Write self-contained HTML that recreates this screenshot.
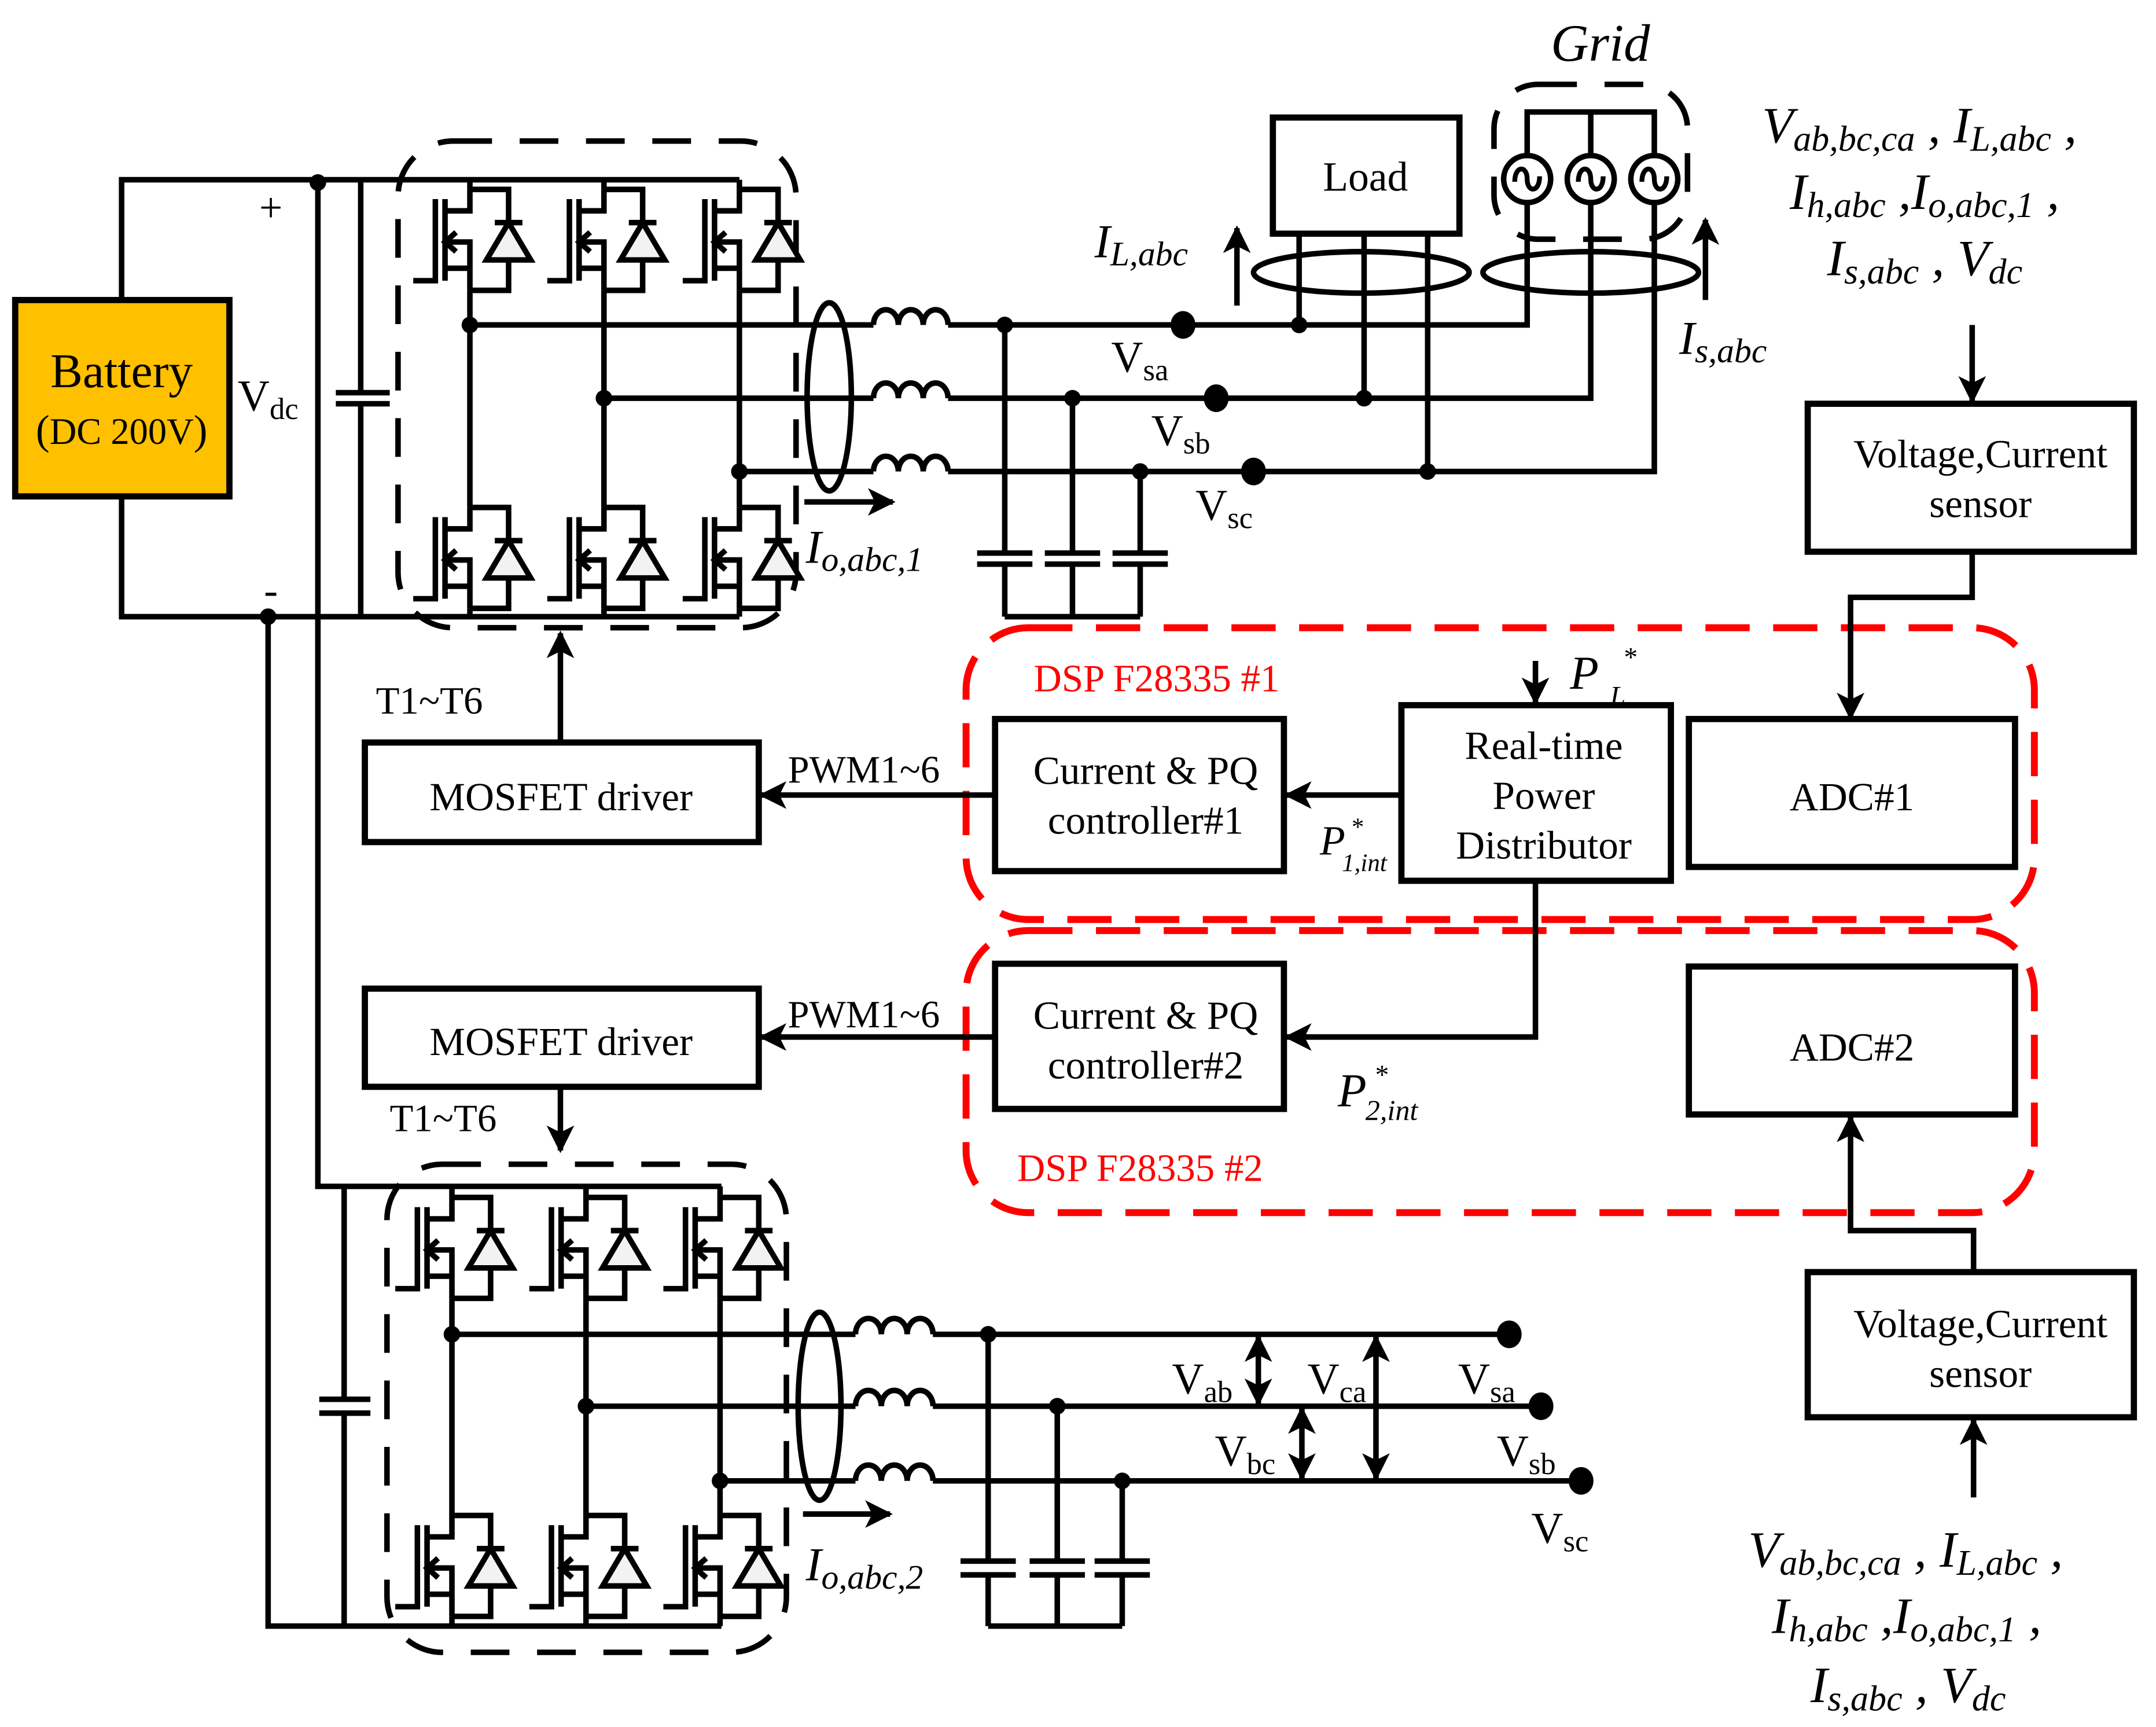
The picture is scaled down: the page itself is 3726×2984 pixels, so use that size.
<!DOCTYPE html>
<html><head><meta charset="utf-8"><style>
html,body{margin:0;padding:0;background:#fff}
svg{display:block}
text{font-family:"Liberation Serif",serif;fill:#000}
</style></head><body>
<svg width="3726" height="2984" viewBox="0 0 1560 1249" preserveAspectRatio="none" xmlns="http://www.w3.org/2000/svg" font-family="Liberation Serif, serif">
<defs>
<marker id="ar" viewBox="0 0 20 20" refX="18" refY="10" markerWidth="20" markerHeight="20" markerUnits="userSpaceOnUse" orient="auto-start-reverse">
<path d="M0,0 L20,10 L0,20 L5,10 z" fill="#000"/></marker>
<g id="cell" fill="none" stroke="#000" stroke-width="4" stroke-linejoin="miter">
<path d="M0,0 V15.5 H-18"/>
<path d="M-18,7 V66"/>
<path d="M-25,7 V66 H-41"/>
<path d="M-18,38 H0 V73"/>
<path d="M-18,57 H0"/>
<path d="M0,0 H28 V24"/>
<path d="M28,51 V73 H0"/>
<path d="M18,24 H38"/>
<path d="M28,24 L12,51 H44 Z" fill="#f2f2f2"/>
<path d="M-10,31 L-18,38 L-10,45"/>
</g>
<g id="src" fill="none" stroke="#000" stroke-width="4">
<circle cx="0" cy="0" r="17" fill="#fff"/>
<path d="M-9,2 C-9,-10 0,-10 0,0 C0,10 9,10 9,-2" stroke-width="3.5"/>
</g>
</defs>

<g fill="none" stroke="#000" stroke-width="4">
<path d="M88,217 V130 H535"/>
<path d="M88,359 V446 H535"/>
<path d="M230,130 V858 H522"/>
<path d="M194,446 V1176 H522"/>
<path d="M261,130 V284 M261,292 V446 M243,284 H282 M243,292 H282"/>
<path d="M249,858 V1012 M249,1022 V1176 M231,1012 H268 M231,1022 H268"/>
<path d="M340,130 V137 M340,210 V367 M340,440 V446"/>
<path d="M437,130 V137 M437,210 V367 M437,440 V446"/>
<path d="M535,130 V137 M535,210 V367 M535,440 V446"/>
<path d="M327,858 V866 M327,939 V1096 M327,1169 V1176"/>
<path d="M424,858 V866 M424,939 V1096 M424,1169 V1176"/>
<path d="M521,858 V866 M521,939 V1096 M521,1169 V1176"/>
<path d="M340,235 H632 M686,235 H1105 V146"/>
<path d="M437,288 H632 M686,288 H1151 V146"/>
<path d="M535,341 H632 M686,341 H1197 V146"/>
<path d="M632,235 a9,11 0 0 1 18,0 a9,11 0 0 1 18,0 a9,11 0 0 1 18,0"/>
<path d="M632,288 a9,11 0 0 1 18,0 a9,11 0 0 1 18,0 a9,11 0 0 1 18,0"/>
<path d="M632,341 a9,11 0 0 1 18,0 a9,11 0 0 1 18,0 a9,11 0 0 1 18,0"/>
<path d="M1105,112 V81 H1197 V112 M1151,81 V112"/>
<path d="M940,169 V235 M987,169 V288 M1033,169 V341"/>
<path d="M727,235 V400 M727,408 V446 M707,400 H747 M707,408 H747"/>
<path d="M776,288 V400 M776,408 V446 M756,400 H796 M756,408 H796"/>
<path d="M825,341 V400 M825,408 V446 M805,400 H845 M805,408 H845"/>
<path d="M727,446 H825"/>
<path d="M327,965 H619 M675,965 H1088"/>
<path d="M424,1017 H619 M675,1017 H1110"/>
<path d="M521,1071 H619 M675,1071 H1139"/>
<path d="M619,965 a9,11 0 0 1 18.7,0 a9,11 0 0 1 18.7,0 a9,11 0 0 1 18.7,0"/>
<path d="M619,1017 a9,11 0 0 1 18.7,0 a9,11 0 0 1 18.7,0 a9,11 0 0 1 18.7,0"/>
<path d="M619,1071 a9,11 0 0 1 18.7,0 a9,11 0 0 1 18.7,0 a9,11 0 0 1 18.7,0"/>
<path d="M715,965 V1129 M715,1139 V1176 M695,1129 H735 M695,1139 H735"/>
<path d="M765,1017 V1129 M765,1139 V1176 M745,1129 H785 M745,1139 H785"/>
<path d="M812,1071 V1129 M812,1139 V1176 M792,1129 H832 M792,1139 H832"/>
<path d="M715,1176 H812"/>
<ellipse cx="600" cy="287" rx="16" ry="68"/>
<ellipse cx="593" cy="1017" rx="15.5" ry="68"/>
<ellipse cx="985" cy="197" rx="78" ry="15"/>
<ellipse cx="1151" cy="197" rx="78" ry="15"/>
<rect x="11" y="217" width="155" height="142" fill="#FFC000" stroke-width="4.5"/>
<rect x="921" y="85" width="135" height="84" stroke-width="4.5"/>
<rect x="1308" y="292" width="236" height="107" stroke-width="4.5"/>
<rect x="1308" y="920" width="236" height="105" stroke-width="4.5"/>
<rect x="1014" y="510" width="195" height="127" stroke-width="4.5"/>
<rect x="1222" y="520" width="236" height="107" stroke-width="4.5"/>
<rect x="1222" y="699" width="236" height="107" stroke-width="4.5"/>
<rect x="720" y="520" width="209" height="110" stroke-width="4.5"/>
<rect x="720" y="697" width="209" height="105" stroke-width="4.5"/>
<rect x="264" y="537" width="285" height="72" stroke-width="4.5"/>
<rect x="264" y="715" width="285" height="71" stroke-width="4.5"/>
<rect x="288" y="102" width="288" height="352" rx="40" stroke-dasharray="28 20"/>
<rect x="280" y="842" width="289" height="353" rx="40" stroke-dasharray="28 20"/>
<rect x="1081" y="61" width="140" height="112" rx="32" stroke-dasharray="28 20"/>
<rect x="699" y="454" width="773" height="211" rx="45" stroke="#ff0000" stroke-width="5" stroke-dasharray="32 17"/>
<rect x="699" y="673" width="773" height="204" rx="45" stroke="#ff0000" stroke-width="5" stroke-dasharray="32 17"/>
<g marker-end="url(#ar)">
<path d="M895,221 V165"/>
<path d="M1234,217 V159"/>
<path d="M1427,235 V290"/>
<path d="M1427,399 V432 H1339 V519"/>
<path d="M1111,478 V508"/>
<path d="M1014,575 H931"/>
<path d="M720,575 H551"/>
<path d="M405.5,537 V458"/>
<path d="M582,363 H646"/>
<path d="M1111,637 V750 H931"/>
<path d="M720,750 H551"/>
<path d="M405.5,786 V832"/>
<path d="M1428,919 V890 H1339 V808"/>
<path d="M1428,1083 V1027"/>
<path d="M581,1095 H644"/>
</g>
<g marker-start="url(#ar)" marker-end="url(#ar)">
<path d="M910.5,967 V1015"/>
<path d="M995.6,967 V1069"/>
<path d="M942,1019 V1069"/>
</g>
</g>

<use href="#cell" x="340" y="137"/><use href="#cell" x="437" y="137"/><use href="#cell" x="535" y="137"/>
<use href="#cell" x="340" y="367"/><use href="#cell" x="437" y="367"/><use href="#cell" x="535" y="367"/>
<use href="#cell" x="327" y="866"/><use href="#cell" x="424" y="866"/><use href="#cell" x="521" y="866"/>
<use href="#cell" x="327" y="1096"/><use href="#cell" x="424" y="1096"/><use href="#cell" x="521" y="1096"/>
<use href="#src" x="1105" y="129.5"/><use href="#src" x="1151" y="129.5"/><use href="#src" x="1197" y="129.5"/>

<g fill="#000">
<circle cx="340" cy="235" r="6"/><circle cx="437" cy="288" r="6"/><circle cx="535" cy="341" r="6"/>
<circle cx="727" cy="235" r="6"/><circle cx="776" cy="288" r="6"/><circle cx="825" cy="341" r="6"/>
<circle cx="940" cy="235" r="6"/><circle cx="987" cy="288" r="6"/><circle cx="1033" cy="341" r="6"/>
<circle cx="230" cy="132" r="6"/><circle cx="194" cy="446" r="6"/>
<circle cx="327" cy="965" r="6"/><circle cx="424" cy="1017" r="6"/><circle cx="521" cy="1071" r="6"/>
<circle cx="715" cy="965" r="6"/><circle cx="765" cy="1017" r="6"/><circle cx="812" cy="1071" r="6"/>
<ellipse cx="856" cy="235" rx="9" ry="10"/><ellipse cx="880" cy="288" rx="9" ry="10"/><ellipse cx="907" cy="341" rx="9" ry="10"/>
<ellipse cx="1092" cy="965" rx="9" ry="10"/><ellipse cx="1115" cy="1017" rx="9" ry="10"/><ellipse cx="1144" cy="1071" rx="9" ry="10"/>
</g>

<text x="88" y="280" font-size="35" text-anchor="middle">Battery</text>
<text x="88" y="321" font-size="27" text-anchor="middle"><tspan font-size="30">(</tspan>DC 200V<tspan font-size="30">)</tspan></text>
<text x="196" y="160" font-size="30" text-anchor="middle">+</text>
<text x="196" y="437" font-size="30" text-anchor="middle">-</text>
<text x="172" y="297" font-size="32">V<tspan dy="6" font-size="22">dc</tspan></text>
<text x="988" y="138" font-size="30" text-anchor="middle">Load</text>
<text x="1158" y="44" font-size="38" font-style="italic" text-anchor="middle">Grid</text>
<text x="792" y="186" font-size="34" font-style="italic">I<tspan dy="6" font-size="25">L,abc</tspan></text>
<text x="1215" y="256" font-size="34" font-style="italic">I<tspan dy="6" font-size="25">s,abc</tspan></text>
<text x="583" y="407" font-size="34" font-style="italic">I<tspan dy="6" font-size="25">o,abc,1</tspan></text>
<text x="583" y="1143" font-size="34" font-style="italic">I<tspan dy="6" font-size="25">o,abc,2</tspan></text>
<text x="804" y="269" font-size="32">V<tspan dy="6" font-size="22">sa</tspan></text>
<text x="833" y="322" font-size="32">V<tspan dy="6" font-size="22">sb</tspan></text>
<text x="865" y="376" font-size="32">V<tspan dy="6" font-size="22">sc</tspan></text>
<text x="848" y="1008" font-size="32">V<tspan dy="6" font-size="22">ab</tspan></text>
<text x="946" y="1008" font-size="32">V<tspan dy="6" font-size="22">ca</tspan></text>
<text x="1055" y="1008" font-size="32">V<tspan dy="6" font-size="22">sa</tspan></text>
<text x="879" y="1060" font-size="32">V<tspan dy="6" font-size="22">bc</tspan></text>
<text x="1083" y="1060" font-size="32">V<tspan dy="6" font-size="22">sb</tspan></text>
<text x="1108" y="1116" font-size="32">V<tspan dy="6" font-size="22">sc</tspan></text>

<text x="1275" y="103" font-size="37" font-style="italic">V<tspan dy="6" font-size="26">ab,bc,ca</tspan><tspan dy="-6"> , I</tspan><tspan dy="6" font-size="26">L,abc</tspan><tspan dy="-6"> ,</tspan></text>
<text x="1295" y="151" font-size="37" font-style="italic">I<tspan dy="6" font-size="26">h,abc</tspan><tspan dy="-6"> ,I</tspan><tspan dy="6" font-size="26">o,abc,1</tspan><tspan dy="-6"> ,</tspan></text>
<text x="1322" y="199" font-size="37" font-style="italic">I<tspan dy="6" font-size="26">s,abc</tspan><tspan dy="-6"> ,  V</tspan><tspan dy="6" font-size="26">dc</tspan></text>
<text x="1265" y="1133" font-size="37" font-style="italic">V<tspan dy="6" font-size="26">ab,bc,ca</tspan><tspan dy="-6"> , I</tspan><tspan dy="6" font-size="26">L,abc</tspan><tspan dy="-6"> ,</tspan></text>
<text x="1282" y="1181" font-size="37" font-style="italic">I<tspan dy="6" font-size="26">h,abc</tspan><tspan dy="-6"> ,I</tspan><tspan dy="6" font-size="26">o,abc,1</tspan><tspan dy="-6"> ,</tspan></text>
<text x="1310" y="1231" font-size="37" font-style="italic">I<tspan dy="6" font-size="26">s,abc</tspan><tspan dy="-6"> ,  V</tspan><tspan dy="6" font-size="26">dc</tspan></text>

<text x="1433" y="338" font-size="29" text-anchor="middle">Voltage,Current</text>
<text x="1433" y="374" font-size="29" text-anchor="middle">sensor</text>
<text x="1433" y="967" font-size="29" text-anchor="middle">Voltage,Current</text>
<text x="1433" y="1003" font-size="29" text-anchor="middle">sensor</text>
<text x="1117" y="549" font-size="29" text-anchor="middle">Real-time</text>
<text x="1117" y="585" font-size="29" text-anchor="middle">Power</text>
<text x="1117" y="621" font-size="29" text-anchor="middle">Distributor</text>
<text x="1340" y="586" font-size="29" text-anchor="middle">ADC#1</text>
<text x="1340" y="767" font-size="29" text-anchor="middle">ADC#2</text>
<text x="829" y="567" font-size="29" text-anchor="middle">Current &amp; PQ</text>
<text x="829" y="603" font-size="29" text-anchor="middle">controller#1</text>
<text x="829" y="744" font-size="29" text-anchor="middle">Current &amp; PQ</text>
<text x="829" y="780" font-size="29" text-anchor="middle">controller#2</text>
<text x="406" y="586" font-size="29" text-anchor="middle">MOSFET driver</text>
<text x="406" y="763" font-size="29" text-anchor="middle">MOSFET driver</text>
<text x="570" y="566" font-size="28">PWM1~6</text>
<text x="570" y="743" font-size="28">PWM1~6</text>
<text x="272" y="516" font-size="28">T1~T6</text>
<text x="282" y="818" font-size="28">T1~T6</text>
<text x="748" y="500" font-size="28" style="fill:#ff0000">DSP F28335 #1</text>
<text x="736" y="854" font-size="28" style="fill:#ff0000">DSP F28335 #2</text>
<text x="1136" y="498" font-size="34" font-style="italic">P</text>
<text x="1175" y="482" font-size="20">*</text>
<text x="1165" y="510" font-size="20" font-style="italic">L</text>
<text x="955" y="618" font-size="30" font-style="italic">P</text>
<text x="978" y="604" font-size="18">*</text>
<text x="971" y="630" font-size="18" font-style="italic">1,int</text>
<text x="968" y="800" font-size="34" font-style="italic">P</text>
<text x="995" y="784" font-size="20">*</text>
<text x="988" y="810" font-size="21" font-style="italic">2,int</text>
</svg>
</body></html>
